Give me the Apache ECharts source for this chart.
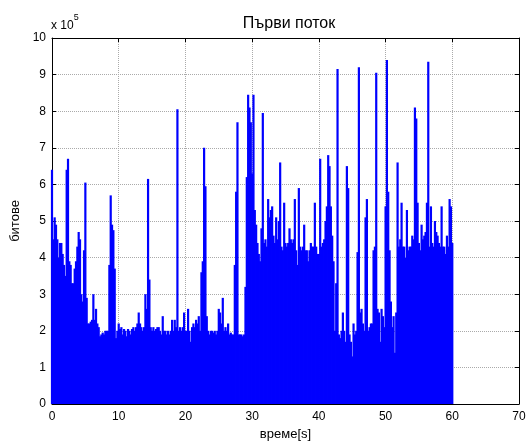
<!DOCTYPE html>
<html lang="bg">
<head>
  <meta charset="UTF-8">
  <title>Първи поток</title>
  <script src="https://cdn.jsdelivr.net/npm/echarts@6/dist/echarts.min.js"></script>
  <style>
    html, body { margin: 0; padding: 0; background: #fff; }
    #chart { width: 526px; height: 441px; }
  </style>
</head>
<body>
  <div id="chart"></div>
  <script>
    // стъпка по време (s) между отчетите
    const step = 0.2;
    // битове на отчет, в единици x 10^5 (пикове, отчетени от графиката)
    const bitsE5 = [
      6.4, 4.5, 5.1, 4.9, 4.5, 4.0, 4.4, 4.4, 4.1, 3.8,
      3.5, 6.4, 6.7, 3.9, 3.8, 3.3, 3.3, 3.7, 3.9, 4.3,
      4.7, 4.5, 3.0, 2.8, 4.2, 6.05, 2.9, 2.2, 2.2, 2.25,
      2.3, 3.0, 2.3, 2.6, 2.2, 2.1, 1.85, 1.9, 1.95, 1.9,
      2.0, 2.0, 2.0, 3.8, 5.7, 4.9, 4.75, 3.7, 1.8, 2.0,
      2.2, 2.05, 2.1, 1.9, 2.05, 2.0, 1.85, 2.05, 2.0, 1.9,
      2.05, 2.1, 2.0, 2.1, 2.2, 2.5, 2.2, 2.1, 2.0, 2.1,
      3.0, 2.6, 6.15, 3.4, 2.1, 2.0, 2.1, 2.0, 2.05, 2.1,
      2.1, 2.0, 1.9, 2.4, 2.0, 2.0, 1.9, 2.0, 1.9, 2.0,
      2.3, 2.0, 2.3, 2.1, 8.05, 2.0, 2.1, 2.0, 2.1, 2.5,
      2.0, 2.0, 2.6, 2.0, 1.7, 2.1, 2.2, 2.1, 2.3, 2.2,
      2.4, 2.0, 3.6, 3.9, 7.0, 5.95, 2.4, 2.0, 1.9, 2.0,
      2.0, 1.95, 2.0, 1.9, 2.0, 2.6, 2.5, 2.2, 2.9, 2.0,
      2.1, 2.0, 2.2, 1.9, 1.95, 1.9, 1.9, 3.8, 5.8, 7.7,
      1.9, 1.9, 1.9, 1.85, 1.9, 3.2, 6.2, 8.45, 8.1, 7.7,
      6.3, 8.45, 5.3, 4.9, 4.4, 4.1, 3.9, 4.8, 7.95, 4.4,
      4.5, 4.3, 5.6, 5.1, 5.3, 5.4, 4.6, 4.4, 5.1, 4.5,
      5.0, 6.6, 4.3, 4.2, 5.5, 4.4, 4.3, 4.4, 4.8, 4.5,
      4.4, 4.5, 5.6, 4.2, 3.8, 5.9, 4.3, 4.2, 4.3, 4.9,
      4.2, 4.2, 3.9, 4.2, 4.4, 4.3, 4.3, 5.5, 4.3, 4.1,
      4.1, 6.7, 4.3, 4.4, 4.5, 5.0, 5.4, 6.8, 6.5, 5.4,
      4.6, 3.9, 2.0, 3.3, 9.15, 1.9, 1.8, 2.0, 2.5, 2.0,
      1.7, 6.5, 5.9, 1.9, 1.7, 1.3, 2.2, 1.9, 2.0, 4.15,
      9.2, 2.5, 2.6, 2.2, 2.0, 5.1, 5.6, 2.0, 2.1, 2.2,
      2.2, 4.2, 4.3, 9.05, 2.6, 2.5, 1.7, 2.6, 2.4, 2.1,
      5.4, 9.4, 5.8, 4.2, 2.8, 2.1, 2.4, 1.4, 2.5, 6.6,
      4.3, 4.5, 5.5, 4.3, 4.3, 4.0, 5.3, 4.2, 4.3, 4.3,
      4.6, 4.5, 8.1, 7.8, 5.5, 4.4, 4.2, 4.9, 4.5, 4.6,
      4.7, 5.5, 9.35, 4.3, 5.4, 4.4, 4.3, 5.0, 4.7, 4.6,
      4.4, 4.3, 5.4, 4.3, 4.3, 4.1, 4.6, 4.3, 5.6, 5.4,
      4.4
    ];
    const xTicks = [0, 10, 20, 30, 40, 50, 60, 70];
    const yTicks = [0, 1, 2, 3, 4, 5, 6, 7, 8, 9, 10];

    const points = bitsE5.map((v, i) => [+(i * step).toFixed(1), v]);

    const font = '"Liberation Sans", Arial, sans-serif';
    const axisBase = {
      type: 'value',
      axisLine: { show: true, onZero: false, lineStyle: { color: '#000', width: 1 } },
      axisTick: { show: true, inside: true, length: 4, lineStyle: { color: '#000' } },
      axisLabel: { color: '#000', fontSize: 12, fontFamily: font },
      splitLine: { show: false }
    };

    const chart = echarts.init(document.getElementById('chart'));
    chart.setOption({
      animation: false,
      title: {
        text: 'Първи поток',
        left: 284, top: 11, textAlign: 'center',
        textStyle: { fontSize: 16, fontWeight: 'normal', color: '#000', fontFamily: font }
      },
      grid: { left: 52, top: 38, right: 7, bottom: 37, containLabel: false, outerBoundsMode: 'none' },
      graphic: [{
        type: 'text', left: 51, top: 13,
        style: {
          text: '{b|x 10}{s|5}',
          rich: {
            b: { fontSize: 12, fontFamily: font, fill: '#000', padding: [7, 0, 0, 0] },
            s: { fontSize: 9, fontFamily: font, fill: '#000', verticalAlign: 'top' }
          }
        }
      }],
      xAxis: [
        Object.assign({}, axisBase, {
          min: xTicks[0], max: xTicks[xTicks.length - 1], interval: 10,
          name: 'време[s]', nameLocation: 'middle', nameGap: 23,
          nameTextStyle: { fontSize: 13, color: '#000', fontFamily: font },
          axisLabel: Object.assign({}, axisBase.axisLabel, { margin: 7 }),
          splitLine: { show: true, lineStyle: { color: '#aaa', type: [1, 1] } }
        }),
        Object.assign({}, axisBase, {
          position: 'top', min: xTicks[0], max: xTicks[xTicks.length - 1], interval: 10,
          axisLabel: { show: false }
        })
      ],
      yAxis: [
        Object.assign({}, axisBase, {
          min: yTicks[0], max: yTicks[yTicks.length - 1], interval: 1,
          name: 'битове', nameLocation: 'middle', nameGap: 27,
          nameTextStyle: { fontSize: 13, color: '#000', fontFamily: font },
          axisLabel: Object.assign({}, axisBase.axisLabel, { margin: 6 }),
          splitLine: { show: true, lineStyle: { color: '#aaa', type: [1, 1] } }
        }),
        Object.assign({}, axisBase, {
          position: 'right', min: yTicks[0], max: yTicks[yTicks.length - 1], interval: 1,
          axisLabel: { show: false }
        })
      ],
      series: [{
        type: 'bar',
        data: points,
        barWidth: 2.2,
        barGap: '-100%',
        itemStyle: { color: '#0000ff' },
        silent: true,
        z: 1
      }]
    });
  </script>
</body>
</html>
